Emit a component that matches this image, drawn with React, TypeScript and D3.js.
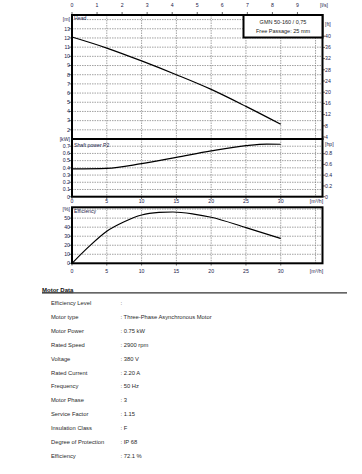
import React from "react";
import * as d3 from "d3";

// chart values
const flowTicks = [0, 5, 10, 15, 20, 25, 30];
const lsTicks = [0, 1, 2, 3, 4, 5, 6, 7, 8, 9];
const headTicks = [2, 3, 4, 5, 6, 7, 8, 9, 10, 11, 12, 13];
const ftTicks = [4, 8, 12, 16, 20, 24, 28, 32, 36, 40];
const kwTicks = [0, 0.1, 0.2, 0.3, 0.4, 0.5, 0.6, 0.7];
const hpTicks = [0, 0.2, 0.4, 0.6, 0.8];
const effTicks = [0, 10, 20, 30, 40, 50];

const headQ = [0, 5, 10, 15, 20, 25, 30];
const headH = [12.1, 10.9, 9.5, 8.0, 6.4, 4.55, 2.6];
const powerQ = [0, 5, 10, 15, 20, 25, 28, 30];
const powerP = [0.385, 0.392, 0.458, 0.545, 0.635, 0.708, 0.73, 0.727];
const effQ = [0, 2.5, 5, 7.5, 10, 12.5, 14.5, 17.5, 20, 25, 30];
const effE = [0, 19, 35.5, 46, 53.5, 56.3, 56.8, 54.5, 51, 39.5, 27.5];

const motorLabels = [
  "Efficiency Level",
  "Motor type",
  "Motor Power",
  "Rated Speed",
  "Voltage",
  "Rated Current",
  "Frequency",
  "Motor Phase",
  "Service Factor",
  "Insulation Class",
  "Degree of Protection",
  "Efficiency",
];
const motorValues = [
  "",
  "Three-Phase Asynchronous Motor",
  "0.75 kW",
  "2900 rpm",
  "380 V",
  "2.20 A",
  "50 Hz",
  "3",
  "1.15",
  "F",
  "IP 68",
  "72.1 %",
];

const FONT = "Liberation Sans, Arial, sans-serif";
const LBL = "#22224a";

const x = d3.scaleLinear().domain([0, 36]).range([72, 322.5]);
const yHead = d3.scaleLinear().domain([1, 14.5]).range([139, 15]);
const yPow = d3.scaleLinear().domain([0, 0.8]).range([196.7, 139]);
const yEff = d3.scaleLinear().domain([0, 62]).range([263.3, 207.3]);

function Grid(props: any) {
  const { ys, top, bottom } = props;
  const vx = [5, 10, 15, 20, 25, 30, 35];
  return (
    <g stroke="#7a7a7a" strokeWidth={0.7} strokeDasharray="1.5,1">
      {vx.map(v => (
        <line key={"v" + v} x1={x(v)} x2={x(v)} y1={top} y2={bottom} />
      ))}
      {ys.map((y: number, i: number) => (
        <line key={"h" + i} x1={x(0)} x2={x(36)} y1={y} y2={y} />
      ))}
    </g>
  );
}

function Panel(props: any) {
  const { top, bottom } = props;
  return (
    <rect x={x(0)} y={top} width={x(36) - x(0)} height={bottom - top}
      fill="none" stroke="#000" strokeWidth={2} />
  );
}

export default function App() {
  const headLine = d3.line<number>()
    .x((d, i) => x(headQ[i]))
    .y(d => yHead(d))
    .curve(d3.curveMonotoneX);
  const powLine = d3.line<number>()
    .x((d, i) => x(powerQ[i]))
    .y(d => yPow(d))
    .curve(d3.curveMonotoneX);
  const effLine = d3.line<number>()
    .x((d, i) => x(effQ[i]))
    .y(d => yEff(d))
    .curve(d3.curveMonotoneX);

  const fmt1 = d3.format(".1f");

  return (
    <svg width={362} height={474} style={{ position: "absolute", left: 0, top: 0, background: "#fff" }}
      fontFamily={FONT}>
      {/* ---------- head panel ---------- */}
      <Grid top={15} bottom={139} ys={d3.range(2, 15).map(v => yHead(v))} />
      <path d={headLine(headH) || ""} fill="none" stroke="#000" strokeWidth={1.2} />
      <Panel top={15} bottom={139} />
      <text x={74} y={20} fontSize={5.2} fill={LBL}>Head</text>
      <g fontSize={5.2} fill={LBL}>
        {lsTicks.map(v => (
          <text key={v} x={x(v * 3.6)} y={7} textAnchor="middle">{v}</text>
        ))}
        <text x={324} y={7} textAnchor="middle">[l/s]</text>
        {headTicks.map(v => (
          <text key={v} x={70} y={yHead(v) + 1.8} textAnchor="end">{v}</text>
        ))}
        <text x={70} y={yHead(14) + 1.8} textAnchor="end">[m]</text>
        {ftTicks.map(v => (
          <text key={v} x={325} y={yHead(v / 3.2808) + 1.8}>{v}</text>
        ))}
        <text x={325} y={26}>[ft]</text>
      </g>
      <g stroke="#000" strokeWidth={0.6}>
        {lsTicks.map(v => (
          <line key={v} x1={x(v * 3.6)} x2={x(v * 3.6)} y1={12} y2={15} />
        ))}
        {headTicks.map(v => (
          <line key={v} x1={69} x2={72} y1={yHead(v)} y2={yHead(v)} />
        ))}
        {ftTicks.map(v => (
          <line key={v} x1={322.5} x2={325} y1={yHead(v / 3.2808)} y2={yHead(v / 3.2808)} />
        ))}
      </g>
      <rect x={243.5} y={15} width={79} height={22.5} fill="#fff" stroke="#000" strokeWidth={2} />
      <text x={283} y={24} fontSize={5.5} textAnchor="middle" fill="#222">GMN 50-160 / 0,75</text>
      <text x={283} y={32.5} fontSize={5.5} textAnchor="middle" fill="#222">Free Passage: 25 mm</text>

      {/* ---------- shaft power panel ---------- */}
      <Grid top={139} bottom={196.7} ys={kwTicks.slice(1).map(v => yPow(v))} />
      <path d={powLine(powerP) || ""} fill="none" stroke="#000" strokeWidth={1.2} />
      <Panel top={139} bottom={196.7} />
      <text x={74} y={146.5} fontSize={5.2} fill={LBL}>Shaft power P2</text>
      <g fontSize={5.2} fill={LBL}>
        {kwTicks.map(v => (
          <text key={v} x={70} y={yPow(v) + 1.8} textAnchor="end">{v === 0 ? "0" : fmt1(v)}</text>
        ))}
        <text x={70} y={yPow(0.8) + 1.8} textAnchor="end">[kW]</text>
        {hpTicks.map(v => (
          <text key={v} x={325} y={yPow(v / 1.341) + 1.8}>{v === 0 ? "0" : fmt1(v)}</text>
        ))}
        <text x={325} y={145.5}>[hp]</text>
        {flowTicks.map(v => (
          <text key={v} x={x(v)} y={203} textAnchor="middle">{v}</text>
        ))}
        <text x={316.5} y={203} textAnchor="middle">[m³/h]</text>
      </g>
      <g stroke="#000" strokeWidth={0.6}>
        {kwTicks.map(v => (
          <line key={v} x1={69} x2={72} y1={yPow(v)} y2={yPow(v)} />
        ))}
        {hpTicks.map(v => (
          <line key={v} x1={322.5} x2={325} y1={yPow(v / 1.341)} y2={yPow(v / 1.341)} />
        ))}
        {flowTicks.map(v => (
          <line key={v} x1={x(v)} x2={x(v)} y1={196.7} y2={199} />
        ))}
      </g>

      {/* ---------- efficiency panel ---------- */}
      <Grid top={207.3} bottom={263.3} ys={[10, 20, 30, 40, 50, 60].map(v => yEff(v))} />
      <path d={effLine(effE) || ""} fill="none" stroke="#000" strokeWidth={1.2} />
      <Panel top={207.3} bottom={263.3} />
      <text x={74} y={213} fontSize={5.2} fill={LBL}>Efficiency</text>
      <g fontSize={5.2} fill={LBL}>
        {effTicks.map(v => (
          <text key={v} x={70} y={yEff(v) + 1.8} textAnchor="end">{v}</text>
        ))}
        <text x={70} y={yEff(60) + 1.8} textAnchor="end">[%]</text>
        {flowTicks.map(v => (
          <text key={v} x={x(v)} y={272.5} textAnchor="middle">{v}</text>
        ))}
        <text x={316.5} y={272.5} textAnchor="middle">[m³/h]</text>
      </g>
      <g stroke="#000" strokeWidth={0.6}>
        {effTicks.map(v => (
          <line key={v} x1={69} x2={72} y1={yEff(v)} y2={yEff(v)} />
        ))}
        {flowTicks.map(v => (
          <line key={v} x1={x(v)} x2={x(v)} y1={263.3} y2={265.5} />
        ))}
      </g>

      {/* ---------- motor data ---------- */}
      <text x={42} y={291.5} fontSize={6} fontWeight="bold" fill="#111"
        textDecoration="underline">Motor Data</text>
      <line x1={42} x2={347} y1={292.8} y2={292.8} stroke="#333" strokeWidth={1.2} />
      <g fontSize={5.8} fill="#2a2a2a">
        {motorLabels.map((l, i) => (
          <g key={l}>
            <text x={51} y={305 + i * 13.9}>{l}</text>
            <text x={120.5} y={305 + i * 13.9}>{":" + (motorValues[i] ? " " + motorValues[i] : "")}</text>
          </g>
        ))}
      </g>
    </svg>
  );
}
